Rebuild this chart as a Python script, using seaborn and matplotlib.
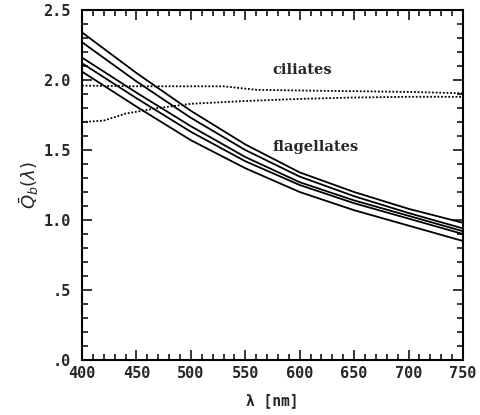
import numpy as np
import pandas as pd
import matplotlib
matplotlib.use("Agg")
import matplotlib.pyplot as plt
import seaborn as sns
from matplotlib.ticker import MultipleLocator, FixedLocator, FixedFormatter

# Wavelength grid (nm) for the flagellate curves
wavelength = [400, 450, 500, 550, 600, 650, 700, 750]

# Mean backscattering efficiency, flagellates
flag_a = [2.34, 2.05, 1.78, 1.54, 1.34, 1.20, 1.08, 0.98]
flag_b = [2.27, 1.99, 1.73, 1.50, 1.31, 1.17, 1.05, 0.94]
flag_c = [2.16, 1.91, 1.67, 1.45, 1.27, 1.14, 1.03, 0.92]
flag_d = [2.12, 1.87, 1.63, 1.42, 1.25, 1.12, 1.01, 0.90]
flag_e = [2.06, 1.81, 1.57, 1.37, 1.20, 1.07, 0.96, 0.85]

# Ciliates
cil_wl_upper = [400, 450, 500, 530, 560, 600, 650, 700, 750]
cil_upper = [1.96, 1.955, 1.955, 1.955, 1.93, 1.925, 1.92, 1.915, 1.905]
cil_wl_lower = [400, 420, 440, 470, 500, 550, 600, 650, 700, 750]
cil_lower = [1.70, 1.71, 1.76, 1.80, 1.83, 1.85, 1.865, 1.875, 1.88, 1.88]

y_ticks = [0.0, 0.5, 1.0, 1.5, 2.0, 2.5]
y_ticklabels = [".0", ".5", "1.0", "1.5", "2.0", "2.5"]
x_ticks = [400, 450, 500, 550, 600, 650, 700, 750]

sns.set_style("ticks")
plt.rcParams["font.family"] = ["DejaVu Sans Mono", "DejaVu Sans"]

flag = pd.concat([
    pd.DataFrame({"wl": wavelength, "q": v, "id": k})
    for k, v in zip("abcde", [flag_a, flag_b, flag_c, flag_d, flag_e])
])

fig = plt.figure(figsize=(4.81, 4.15), dpi=100)
ax = fig.add_axes([0.1705, 0.1325, 0.792, 0.8434])

sns.lineplot(data=flag, x="wl", y="q", units="id", estimator=None,
             color="black", lw=1.3, ax=ax)
sns.lineplot(x=cil_wl_upper, y=cil_upper, color="black", lw=1.3,
             linestyle=(0, (1.0, 1.0)), ax=ax)
sns.lineplot(x=cil_wl_lower, y=cil_lower, color="black", lw=1.3,
             linestyle=(0, (1.0, 1.0)), ax=ax)

ax.set_xlim(400, 750)
ax.set_ylim(0, 2.5)
ax.xaxis.set_major_locator(FixedLocator(x_ticks))
ax.xaxis.set_minor_locator(MultipleLocator(10))
ax.yaxis.set_major_locator(FixedLocator(y_ticks))
ax.yaxis.set_major_formatter(FixedFormatter(y_ticklabels))
ax.yaxis.set_minor_locator(MultipleLocator(0.1))
ax.tick_params(which="both", direction="in", top=True, right=True,
               labelsize=11, width=1.3)
ax.tick_params(axis="x", which="major", pad=4)
ax.tick_params(axis="y", which="major", pad=8)
ax.tick_params(which="major", length=7)
ax.tick_params(which="minor", length=4)
for lab in ax.get_xticklabels() + ax.get_yticklabels():
    lab.set_fontweight("bold")
for s in ax.spines.values():
    s.set_linewidth(1.5)
    s.set_color("black")

ax.set_xlabel("λ [nm]", fontsize=10.5, fontweight="bold", labelpad=9)
ax.set_ylabel(r"$\bar{Q}_b(\lambda)$", fontsize=13, labelpad=2)

ax.text(602, 2.07, "ciliates", ha="center", va="center", fontsize=10.5,
        fontweight="bold", family="DejaVu Serif")
ax.text(615, 1.52, "flagellates", ha="center", va="center", fontsize=10.5,
        fontweight="bold", family="DejaVu Serif")

fig.savefig("out.png", dpi=100)
